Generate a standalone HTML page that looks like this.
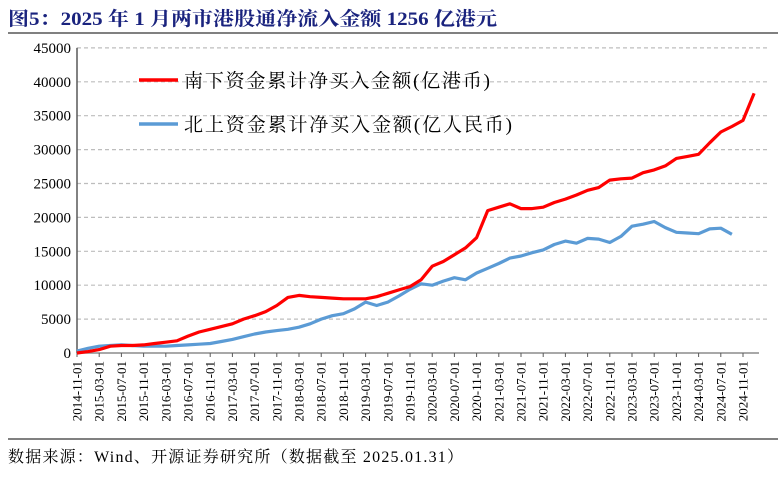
<!DOCTYPE html>
<html><head><meta charset="utf-8"><style>
body{margin:0;background:#fff;}
svg{display:block;font-family:"Liberation Serif","Noto Serif CJK SC",serif;}
</style></head><body>
<svg id="c" width="778" height="478">
<text x="8" y="25" font-size="19" font-weight="bold" fill="#1a237e" textLength="489" lengthAdjust="spacingAndGlyphs">图5：2025 年 1 月两市港股通净流入金额 1256 亿港元</text>
<line x1="8" y1="33" x2="778" y2="33" stroke="#000" stroke-width="1"/>
<g id="grid"></g>
<g id="ylab"></g>
<g id="xlab"></g>
<g id="series"></g>
<g>
<line x1="139" y1="80" x2="178" y2="80" stroke="#ff0000" stroke-width="3.5"/>
<text x="184" y="87" font-size="19" textLength="306" lengthAdjust="spacing">南下资金累计净买入金额(亿港币)</text>
<line x1="139" y1="124" x2="178" y2="124" stroke="#5b9bd5" stroke-width="3.5"/>
<text x="184" y="131" font-size="19" textLength="328" lengthAdjust="spacing">北上资金累计净买入金额(亿人民币)</text>
</g>
<line x1="8" y1="439" x2="778" y2="439" stroke="#000" stroke-width="1"/>
<text x="8" y="462" font-size="16" textLength="455" lengthAdjust="spacing">数据来源：Wind、开源证券研究所（数据截至 2025.01.31）</text>
</svg>
<script>
const yTicks=[0,5000,10000,15000,20000,25000,30000,35000,40000,45000];
const xTickLabels=["2014-11-01","2015-03-01","2015-07-01","2015-11-01","2016-03-01","2016-07-01","2016-11-01","2017-03-01","2017-07-01","2017-11-01","2018-03-01","2018-07-01","2018-11-01","2019-03-01","2019-07-01","2019-11-01","2020-03-01","2020-07-01","2020-11-01","2021-03-01","2021-07-01","2021-11-01","2022-03-01","2022-07-01","2022-11-01","2023-03-01","2023-07-01","2023-11-01","2024-03-01","2024-07-01","2024-11-01"];
const southMonths=[0,2,4,6,8,10,12,14,16,18,20,22,24,26,28,30,32,34,36,38,40,42,44,46,48,50,52,54,56,58,60,62,64,66,68,70,72,74,76,78,80,82,84,86,88,90,92,94,96,98,100,102,104,106,108,110,112,114,116,118,120,122];
const southValues=[0,200,500,1000,1100,1100,1200,1400,1600,1800,2500,3100,3500,3900,4300,5000,5500,6100,7000,8200,8500,8300,8200,8100,8000,8000,8000,8300,8800,9300,9800,10800,12800,13500,14500,15500,17000,21000,21500,22000,21300,21300,21500,22200,22700,23300,24000,24400,25500,25700,25800,26600,27000,27600,28700,29000,29300,31000,32600,33400,34300,38300];
const northMonths=[0,2,4,6,8,10,12,14,16,18,20,22,24,26,28,30,32,34,36,38,40,42,44,46,48,50,52,54,56,58,60,62,64,66,68,70,72,74,76,78,80,82,84,86,88,90,92,94,96,98,100,102,104,106,108,110,112,114,116,118];
const northValues=[300,700,1000,1100,1200,1100,1000,1000,1000,1100,1200,1300,1400,1700,2000,2400,2800,3100,3300,3500,3800,4300,5000,5500,5800,6500,7500,7000,7500,8400,9400,10200,10000,10600,11100,10800,11800,12500,13200,14000,14300,14800,15200,16000,16500,16200,16900,16800,16300,17200,18700,19000,19400,18500,17800,17700,17600,18300,18400,17500];

const NS="http://www.w3.org/2000/svg";
const X0=77,XEND=759,PXM=5.55,Y0=353,PXV=6.78/1000;
const xs=m=>X0+m*PXM, ys=v=>Y0-v*PXV;
function mk(t,a,p){const e=document.createElementNS(NS,t);for(const k in a)e.setAttribute(k,a[k]);p.appendChild(e);return e;}
const grid=document.getElementById('grid'),ylab=document.getElementById('ylab'),xlab=document.getElementById('xlab'),ser=document.getElementById('series');
yTicks.forEach(v=>{
  if(v>0){const g=mk('line',{x1:X0,x2:770,y1:ys(v),y2:ys(v),stroke:'#bdbdbd','stroke-dasharray':'4 3','stroke-width':1.2},grid);
  
  }
  const t=mk('text',{x:71,y:ys(v)+5,'text-anchor':'end','font-size':15},ylab);t.textContent=v;
  
  
});
const ya=mk('line',{x1:X0,x2:X0,y1:ys(45000),y2:Y0,stroke:'#595959','stroke-width':1.5},grid);


const xa=mk('line',{x1:X0,x2:XEND,y1:Y0,y2:Y0,stroke:'#8c8c8c','stroke-width':1.5},grid);


xTickLabels.forEach((s,i)=>{
  const x=xs(i*4);
  const tk=mk('line',{x1:x,x2:x,y1:Y0,y2:Y0+4,stroke:'#595959'},xlab);
  
  
  const t=mk('text',{x:0,y:0,'font-size':13,'text-anchor':'end',transform:`translate(${x+4.5},${Y0+8}) rotate(-90)`},xlab);
  t.textContent=s;
  
  
});
function line(ms,vs,col,name){
  const d=ms.map((m,i)=>(i?'L':'M')+xs(m).toFixed(1)+' '+ys(vs[i]).toFixed(1)).join(' ');
  const p=mk('path',{d:d,fill:'none',stroke:col,'stroke-width':3.2,'stroke-linejoin':'round'},ser);
  
  
}
line(northMonths,northValues,'#5b9bd5','north-bound-line');
line(southMonths,southValues,'#ff0000','south-bound-line');
</script>
</body></html>
